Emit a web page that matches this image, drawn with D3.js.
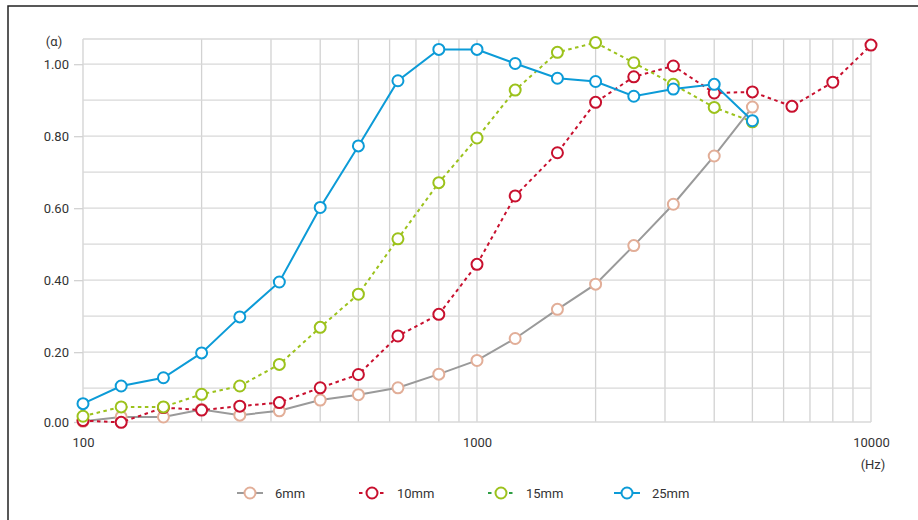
<!DOCTYPE html>
<html>
<head>
<meta charset="utf-8">
<script src="https://cdn.jsdelivr.net/npm/d3@7"></script>
<style>
  html, body { margin: 0; padding: 0; background: #fff; }
  svg text { font-family: "Roboto", "Liberation Sans", sans-serif; fill: #333; }
</style>
</head>
<body>
<svg id="chart" width="918" height="520"></svg>
<script>
const freqs = [100,125,160,200,250,315,400,500,630,800,1000,1250,1600,2000,2500,3150,4000,5000,6300,8000,10000];
const s6mm  = [0.008,0.020,0.020,0.041,0.025,0.037,0.067,0.082,0.101,0.139,0.177,0.238,0.319,0.389,0.496,0.611,0.745,0.881];
const s10mm = [0.010,0.005,0.046,0.039,0.050,0.060,0.101,0.138,0.245,0.305,0.444,0.634,0.754,0.894,0.965,0.995,0.920,0.923,0.883,0.950,1.053];
const s15mm = [0.022,0.048,0.048,0.083,0.106,0.166,0.269,0.361,0.515,0.671,0.795,0.928,1.033,1.060,1.004,0.944,0.880,0.840];
const s25mm = [0.057,0.106,0.129,0.198,0.298,0.395,0.602,0.773,0.954,1.041,1.041,1.002,0.961,0.952,0.911,0.931,0.944,0.843];
const seriesNames = ["6mm","10mm","15mm","25mm"];
const yTickValues = [0,0.2,0.4,0.6,0.8,1.0];
const xTickValues = [100,1000,10000];
const yLabel = "(α)";
const xLabel = "(Hz)";

const styles = {
  "6mm":  {line:"#9a9a9a", marker:"#e2ae98", legendLine:"#9a9a9a", dash:null},
  "10mm": {line:"#c8102e", marker:"#c8102e", legendLine:"#c8102e", dash:"3.5,3.5"},
  "15mm": {line:"#9cc21c", marker:"#9cc21c", legendLine:"#2e9e44", dash:"3.5,3.5"},
  "25mm": {line:"#0c9bd7", marker:"#0c9bd7", legendLine:"#0c9bd7", dash:null}
};
const dataMap = {"6mm":s6mm,"10mm":s10mm,"15mm":s15mm,"25mm":s25mm};

const svg = d3.select("#chart");
// frame
svg.append("rect").attr("x",8).attr("y",6).attr("width",930).attr("height",540)
  .attr("fill","none").attr("stroke","#222").attr("stroke-width",1.5);

const yMin = 0.006, yMax = 1.07;
const x = d3.scaleLog().domain([100,10000]).range([83,871]);
const y = d3.scaleLinear().domain([yMin,yMax]).range([422,39]);

const grid = svg.append("g");
// vertical log grid
const vLines = [];
[100,1000].forEach(dec => { for (let k=1;k<=9;k++) vLines.push(dec*k); });
vLines.push(10000);
grid.selectAll("line.v").data(vLines).enter().append("line")
  .attr("x1",d=>x(d)).attr("x2",d=>x(d)).attr("y1",y(yMax)).attr("y2",y(yMin))
  .attr("stroke","#d2d2d2").attr("stroke-width",1.3);
// horizontal grid
const hLines = d3.range(1,11).map(i=>i/10).concat([yMin,yMax]);
grid.selectAll("line.h").data(hLines).enter().append("line")
  .attr("x1",x(100)).attr("x2",x(10000)).attr("y1",d=>y(d)).attr("y2",d=>y(d))
  .attr("stroke","#d8d8d8").attr("stroke-width",1.3);

// y axis
const yAxis = d3.axisLeft(y).tickValues(yTickValues.map(v=>v===0?yMin:v))
  .tickFormat(d=>d3.format(".2f")(d<0.1?0:d)).tickSize(9).tickPadding(5);
const ya = svg.append("g").attr("transform",`translate(${x(100)},0)`).call(yAxis);
ya.select(".domain").remove();
ya.selectAll(".tick line").attr("stroke","#d2d2d2").attr("stroke-width",1.3);
ya.selectAll(".tick text").style("font-size","13px").attr("fill","#333");

// x axis labels
const xAxis = d3.axisBottom(x).tickValues(xTickValues).tickFormat(d3.format("d")).tickSize(0).tickPadding(16);
const xa = svg.append("g").attr("transform",`translate(0,${y(yMin)})`).call(xAxis);
xa.select(".domain").remove();
xa.selectAll(".tick text").style("font-size","13px").attr("fill","#333");

svg.append("text").attr("x",54).attr("y",46).attr("text-anchor","middle").style("font-size","13px").text(yLabel);
svg.append("text").attr("x",873).attr("y",469).attr("text-anchor","middle").style("font-size","13px").text(xLabel);

// series
const line = d3.line().x((d,i)=>x(freqs[i])).y(d=>y(d));
seriesNames.forEach(name => {
  const vals = dataMap[name], st = styles[name];
  const g = svg.append("g");
  g.append("path").datum(vals).attr("d",line).attr("fill","none")
    .attr("stroke",st.line).attr("stroke-width",2)
    .attr("stroke-dasharray",st.dash);
  g.selectAll("circle").data(vals).enter().append("circle")
    .attr("cx",(d,i)=>x(freqs[i])).attr("cy",d=>y(d)).attr("r",5.5)
    .attr("fill","#fff").attr("stroke",st.marker).attr("stroke-width",2);
});

// legend
const legendX = [250,372,501,627];
const lg = svg.append("g");
seriesNames.forEach((name,i) => {
  const st = styles[name], cx = legendX[i], cy = 493;
  lg.append("line").attr("x1",cx-13).attr("x2",cx+13).attr("y1",cy).attr("y2",cy)
    .attr("stroke",st.legendLine).attr("stroke-width",2).attr("stroke-dasharray",st.dash?"3.5,3.5":null);
  lg.append("circle").attr("cx",cx).attr("cy",cy).attr("r",5.5)
    .attr("fill","#fff").attr("stroke",st.marker).attr("stroke-width",2);
  lg.append("text").attr("x",cx+25).attr("y",cy+4.5).style("font-size","13px").text(name);
});
</script>
</body>
</html>
